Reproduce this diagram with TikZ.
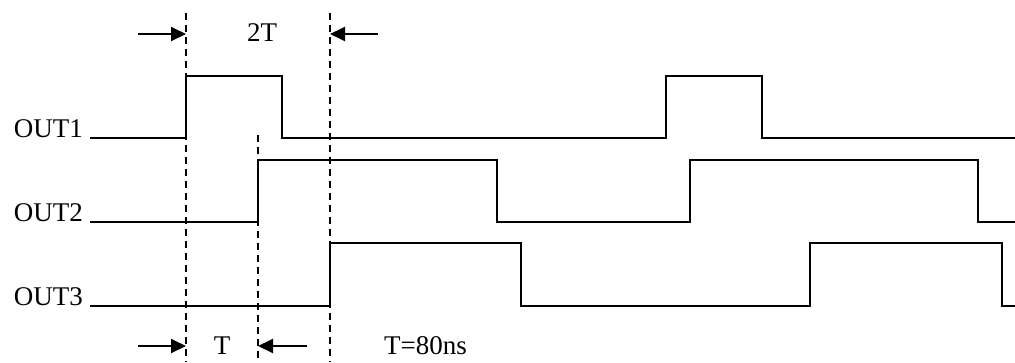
\documentclass[tikz,border=0pt]{standalone}
\usepackage{fontspec}
\setmainfont{Liberation Serif}
\usetikzlibrary{arrows.meta}
\begin{document}
\begin{tikzpicture}[x=1pt,y=-1pt,
  wave/.style={line width=1.9pt, line join=miter},
  guide/.style={line width=1.6pt, dash pattern=on 7pt off 5pt},
  dimarrow/.style={line width=1.9pt, -{Triangle[length=15pt,width=14pt]}},
  lbl/.style={font=\fontsize{27}{31}\selectfont, inner sep=0pt}]
\useasboundingbox (0,0) rectangle (1015,362);
% guides
\draw[guide] (186,13) -- (186,362);
\draw[guide] (258,135) -- (258,362);
\draw[guide] (330,13) -- (330,362);
% waveforms
\draw[wave] (90,138) -- (186,138) -- (186,76) -- (282,76) -- (282,138) -- (666,138) -- (666,76) -- (762,76) -- (762,138) -- (1015,138);
\draw[wave] (90,222) -- (258,222) -- (258,160) -- (497,160) -- (497,222) -- (690,222) -- (690,160) -- (978,160) -- (978,222) -- (1015,222);
\draw[wave] (90,306) -- (330,306) -- (330,243) -- (521,243) -- (521,306) -- (810,306) -- (810,243) -- (1002,243) -- (1002,306) -- (1015,306);
% labels
\node[lbl, anchor=east] (o1) at (83,129) {OUT1};
\node[lbl, anchor=east] (o2) at (83,213) {OUT2};
\node[lbl, anchor=east] (o3) at (83,297) {OUT3};
\node[lbl] (t2) at (262,33) {2T};
\node[lbl] (t1) at (222,346) {T};
\node[lbl, anchor=west] (tv) at (384,346) {T=80ns};
% dimension arrows
\coordinate (a1s) at (138,34); \coordinate (a1e) at (186,34);
\coordinate (a2s) at (378,34); \coordinate (a2e) at (330,34);
\coordinate (b1s) at (138,346); \coordinate (b1e) at (186,346);
\coordinate (b2s) at (307,346); \coordinate (b2e) at (258,346);
\draw[dimarrow] (a1s) -- (a1e);
\draw[dimarrow] (a2s) -- (a2e);
\draw[dimarrow] (b1s) -- (b1e);
\draw[dimarrow] (b2s) -- (b2e);
\end{tikzpicture}
\end{document}
